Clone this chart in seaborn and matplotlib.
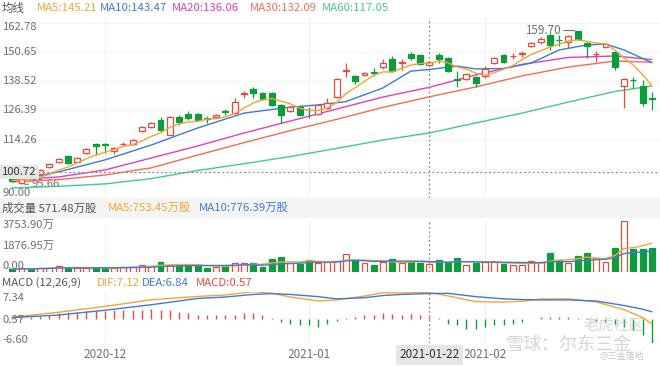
import matplotlib
matplotlib.use("Agg")
import matplotlib.pyplot as plt
from matplotlib.patches import Rectangle
import numpy as np
import pandas as pd
import seaborn as sns

# ---------------- data ----------------
holidays = ["2020-11-26", "2020-12-25", "2021-01-01", "2021-01-18", "2021-02-15"]
dates = [d for d in pd.bdate_range("2020-11-16", "2021-02-26")
         if d.strftime("%Y-%m-%d") not in holidays]

open_p = [98.5, 96.2, 99.0, 99.9, 102.7, 104.8, 107.4, 105.1, 108.8, 112.4,
          112.4, 109.6, 112.3, 112.4, 117.8, 119.6, 122.4, 116.2, 123.6, 124.9,
          124.9, 123.3, 123.8, 126.0, 125.2, 133.4, 135.2, 133.8, 133.8, 128.7,
          126.2, 128.0, 126.7, 124.9, 127.3, 132.0, 142.8, 140.8, 141.2, 142.4,
          144.4, 147.7, 146.1, 149.9, 149.5, 145.4, 149.5, 148.1, 139.6, 139.4,
          140.2, 140.8, 146.3, 149.5, 148.9, 150.0, 153.4, 155.1, 157.9, 155.9,
          155.1, 159.4, 154.4, 149.8, 153.0, 150.9, 136.6, 139.3, 136.6, 131.6]
close_p = [97.2, 97.8, 98.0, 101.6, 104.0, 106.1, 104.6, 106.5, 110.2, 111.6,
           111.9, 110.6, 112.6, 114.1, 119.4, 121.1, 118.3, 123.8, 121.7, 123.1,
           122.4, 123.0, 124.5, 125.8, 129.9, 133.7, 133.6, 131.1, 128.7, 124.5,
           128.0, 124.5, 126.5, 128.7, 129.4, 139.4, 143.1, 138.8, 141.9, 142.2,
           146.3, 143.0, 146.7, 148.1, 145.8, 146.8, 147.7, 143.0, 139.2, 141.6,
           138.0, 143.6, 148.1, 146.7, 149.2, 150.3, 154.4, 156.1, 153.7, 155.6,
           157.4, 156.1, 153.3, 150.0, 154.1, 144.6, 139.4, 138.9, 129.6, 131.3]
high_p = [99.0, 98.3, 99.6, 102.2, 104.7, 106.8, 107.8, 107.1, 110.8, 112.8,
          112.7, 111.0, 113.4, 114.6, 120.0, 121.6, 123.8, 124.2, 124.5, 126.3,
          125.3, 124.1, 124.9, 126.9, 131.4, 134.6, 136.1, 134.2, 134.0, 129.0,
          128.4, 128.3, 128.0, 129.0, 131.8, 139.8, 146.3, 141.2, 142.3, 144.0,
          147.7, 149.1, 147.7, 150.8, 149.9, 147.2, 150.5, 148.5, 143.0, 142.0,
          140.6, 144.9, 148.6, 149.9, 150.4, 151.3, 154.8, 157.1, 158.3, 157.9,
          157.8, 159.70, 154.8, 151.3, 154.5, 151.3, 139.8, 140.5, 139.1, 134.2]
low_p = [96.8, 95.66, 97.5, 99.5, 102.3, 104.4, 104.3, 104.8, 108.2, 107.9,
         108.8, 108.1, 111.6, 112.0, 117.5, 119.2, 117.6, 116.0, 120.5, 122.4,
         122.0, 121.3, 123.5, 124.5, 125.0, 131.5, 131.5, 130.7, 128.3, 121.3,
         125.8, 124.2, 123.1, 124.6, 127.0, 131.8, 140.5, 137.4, 140.8, 140.8,
         143.6, 142.6, 143.3, 147.4, 145.4, 145.0, 146.1, 142.6, 136.1, 139.0,
         136.1, 139.9, 145.9, 146.3, 147.8, 148.8, 153.0, 154.1, 151.6, 153.3,
         152.4, 155.7, 148.1, 146.7, 152.6, 143.3, 127.3, 135.6, 128.3, 126.6]
# volume in 万股
volume = [175, 250, 200, 300, 300, 420, 300, 250, 250, 300,
          300, 250, 370, 370, 490, 420, 740, 490, 490, 490,
          420, 300, 370, 420, 660, 660, 620, 370, 910, 1060,
          660, 545, 860, 660, 700, 810, 1300, 860, 620, 490,
          740, 910, 660, 740, 620, 571.48, 860, 740, 985, 490,
          660, 740, 740, 570, 490, 490, 765, 740, 1400, 860,
          620, 1155, 1350, 985, 740, 1720, 3753.9, 1650, 1650, 1720]
macd_hist = [0.2, 0.4, 0.6, 0.7, 1.1, 1.5, 1.8, 1.8, 2.0, 2.1,
             2.1, 2.3, 2.3, 2.3, 2.4, 2.7, 2.4, 2.3, 1.8, 1.5,
             1.1, 0.9, 0.9, 1.1, 1.1, 1.5, 1.5, 1.1, 0.3, -0.9,
             -1.4, -1.8, -1.8, -2.3, -1.5, -0.6, 0.3, 0.6, 0.9, 1.1,
             1.5, 1.4, 0.9, 1.4, 0.9, 0.57, 0.1, -1.4, -1.8, -2.7,
             -2.7, -2.3, -1.8, -1.8, -1.4, -0.9, -0.1, 0.5, 0.5, 0.6,
             0.6, 0.3, 0.1, -0.5, -0.9, -1.4, -2.3, -3.2, -4.5, -6.6]

ma_idx = [0, 5, 10, 15, 20, 25, 30, 35, 40, 45, 50, 55, 60, 65, 69]
ma20 = [97.4, 98.7, 101.6, 106.6, 111.6, 117.0, 122.0, 127.0, 132.0, 136.06,
        141.2, 145.6, 148.5, 149.1, 147.6]
ma30 = [96.6, 97.6, 99.5, 102.5, 107.8, 113.0, 118.0, 122.7, 127.7, 132.09,
        136.2, 140.8, 144.5, 147.0, 146.5]
ma60 = [94.1, 94.8, 95.8, 98.0, 101.4, 104.2, 107.2, 110.6, 114.1, 117.05,
        121.2, 125.3, 129.9, 134.3, 136.6]
ma10_idx = [0, 5, 10, 15, 20, 25, 30, 33, 36, 40, 43, 45, 48, 50, 53, 56, 59, 62, 64, 66, 69]
ma10 = [97.0, 100.8, 105.8, 112.0, 119.1, 125.3, 127.8, 128.7, 130.1, 135.8, 142.8,
        143.47, 144.9, 143.7, 143.9, 146.2, 151.6, 153.7, 154.1, 151.6, 146.3]
macd_idx = [0, 5, 10, 15, 20, 23, 26, 28, 30, 33, 35, 38, 40, 42, 45, 47, 50, 53,
            55, 57, 60, 63, 66, 68, 69]
dif = [0.4, 1.75, 3.35, 5.15, 6.05, 6.45, 7.34, 6.95, 5.9, 4.85, 5.1, 6.15, 7.05, 7.0,
       7.12, 6.2, 4.65, 4.5, 4.75, 5.35, 5.4, 4.55, 2.45, 0.35, -1.4]
dea = [0.3, 1.0, 2.3, 3.8, 5.5, 5.9, 6.6, 6.8, 6.6, 6.0, 5.4, 5.7, 6.3, 6.6,
       6.84, 6.9, 6.0, 5.4, 5.2, 5.1, 5.1, 4.8, 3.6, 2.6, 1.9]

price_ticks = [162.78, 150.65, 138.52, 126.39, 114.26, 90.00]
vol_ticks = ["3753.90万", "1876.95万", "0.00"]
macd_ticks = ["7.34", "0.37", "-6.60"]
cross_date = "2021-01-22"
cross_price = 100.72

# ---------------- style ----------------
sns.set_theme(style="white")
plt.rcParams['font.family'] = ['Noto Sans CJK SC', 'DejaVu Sans']

RED = "#ea4a3d"
GREEN = "#0d9c3d"
C_MA5, C_MA10, C_MA20, C_MA30, C_MA60 = "#f5a533", "#3c7bd7", "#e23fbf", "#f76d53", "#45c98f"
GRAY = "#707070"
FS = 8.2
LFS = 8.1

W, H = 660, 366
fig = plt.figure(figsize=(W / 100, H / 100), dpi=100)
fig.patch.set_facecolor("white")


def rect(x0, y0, x1, y1):
    return [x0 / W, 1 - y1 / H, (x1 - x0) / W, (y1 - y0) / H]


def ftext(x, y, s, **kw):
    kw.setdefault("fontsize", FS)
    kw.setdefault("va", "center")
    return fig.text(x / W, 1 - y / H, s, **kw)


# header band for volume
fig.patches.append(Rectangle((0, 1 - 218 / H), 1, 20 / H, transform=fig.transFigure,
                             facecolor="#f4f4f4", edgecolor="none", zorder=0))

ax_p = fig.add_axes(rect(0, 18, 660, 198))
ax_v = fig.add_axes(rect(0, 220.7, 660, 271.7))
ax_m = fig.add_axes(rect(0, 291.7, 660, 343))

n = len(close_p)
x = np.arange(n)
xlim = (-1.316, 69.88)
for ax in (ax_p, ax_v, ax_m):
    ax.set_xlim(*xlim)
    ax.set_axis_off()

ax_p.set_ylim(89.93, 164.93)
ax_v.set_ylim(0, 3753.9)
ax_m.set_ylim(-6.60, 7.34)

# month grid lines
month_pos = [i for i in range(1, n) if dates[i].month != dates[i - 1].month]
for ax in (ax_p, ax_v, ax_m):
    for mp in month_pos:
        ax.axvline(mp, color="#f0f0f0", lw=0.8, zorder=0)
for v in price_ticks + [102.13]:
    ax_p.axhline(v, color="#f4f4f4", lw=0.8, zorder=0)

# ---------------- candles ----------------
up = [c >= o for o, c in zip(open_p, close_p)]
cols = [RED if u else GREEN for u in up]
bw = 0.64
ax_p.vlines(x, low_p, high_p, colors=cols, lw=0.9, zorder=3)
for i in range(n):
    o, c = open_p[i], close_p[i]
    h = max(abs(c - o), 0.2)
    ax_p.bar(i, h, bottom=min(o, c), width=bw,
             facecolor="white" if up[i] else GREEN,
             edgecolor=cols[i], lw=0.9, zorder=4)

# moving averages
ma5 = pd.Series(close_p).rolling(5, min_periods=1).mean()
sns.lineplot(x=ma_idx, y=ma60, ax=ax_p, color=C_MA60, lw=1.0, estimator=None, sort=False, zorder=2)
sns.lineplot(x=ma_idx, y=ma30, ax=ax_p, color=C_MA30, lw=1.0, estimator=None, sort=False, zorder=2)
sns.lineplot(x=ma_idx, y=ma20, ax=ax_p, color=C_MA20, lw=1.0, estimator=None, sort=False, zorder=2)
sns.lineplot(x=ma10_idx, y=ma10, ax=ax_p, color=C_MA10, lw=1.0, estimator=None, sort=False, zorder=2)
sns.lineplot(x=x, y=ma5, ax=ax_p, color=C_MA5, lw=1.0, estimator=None, sort=False, zorder=5)

# max / min markers
imax = int(np.argmax(high_p))
imin = int(np.argmin(low_p))
ax_p.annotate(f"{high_p[imax]:.2f}", xy=(imax - 0.35, high_p[imax]), xytext=(-10, 0),
              textcoords="offset points", ha="right", va="center", fontsize=LFS + 0.3, color=GRAY,
              arrowprops=dict(arrowstyle="-", color="#777777", lw=0.8, shrinkA=0, shrinkB=0))
ax_p.annotate(f"{low_p[imin]:.2f}", xy=(imin + 0.35, low_p[imin]), xytext=(5, 0),
              textcoords="offset points", ha="left", va="center", fontsize=LFS, color=GRAY,
              arrowprops=dict(arrowstyle="-", color="#777777", lw=0.8, shrinkA=0, shrinkB=0),
              zorder=1)

# crosshair
ci = [d.strftime("%Y-%m-%d") for d in dates].index(cross_date)
for ax in (ax_p, ax_v, ax_m):
    ax.axvline(ci, color="#8a8a8a", lw=0.9, ls=(0, (1.5, 2)), zorder=6)
ax_p.axhline(cross_price, xmin=0.058, color="#8a8a8a", lw=0.9, ls=(0, (1.5, 2)), zorder=6)


# y labels
def ylab(ax, val, s, dy=0.0):
    ax.annotate(s, xy=(0, val), xycoords=("axes fraction", "data"), xytext=(2, -dy * 0.72),
                textcoords="offset points", ha="left", va="center", fontsize=LFS,
                color=GRAY, zorder=7)


for v in price_ticks:
    dy = 3.8 if v == price_ticks[0] else (-4.8 if v == price_ticks[-1] else 0)
    ylab(ax_p, v, f"{v:.2f}", dy)

# ---------------- volume ----------------
for i in range(n):
    ax_v.bar(i, volume[i], width=bw, facecolor="white" if up[i] else GREEN,
             edgecolor=cols[i], lw=0.9, zorder=3)
vma5 = pd.Series(volume).rolling(5, min_periods=1).mean()
vma10 = pd.Series(volume).rolling(10, min_periods=1).mean()
sns.lineplot(x=x, y=vma5, ax=ax_v, color=C_MA5, lw=1.0, estimator=None, sort=False, zorder=4)
sns.lineplot(x=x, y=vma10, ax=ax_v, color=C_MA10, lw=1.0, estimator=None, sort=False, zorder=4)
ylab(ax_v, 3753.9, vol_ticks[0], 4.0)
ylab(ax_v, 1876.95, vol_ticks[1], 0)
ylab(ax_v, 0, vol_ticks[2], -5.5)

# ---------------- MACD ----------------
mcols = [RED if m >= 0 else GREEN for m in macd_hist]
ax_m.vlines(x, 0, macd_hist, colors=mcols, lw=1.0, zorder=3)
sns.lineplot(x=macd_idx, y=dif, ax=ax_m, color=C_MA5, lw=1.0, estimator=None, sort=False, zorder=4)
sns.lineplot(x=macd_idx, y=dea, ax=ax_m, color=C_MA10, lw=1.0, estimator=None, sort=False, zorder=4)
ylab(ax_m, 7.34, macd_ticks[0], 6.0)
ylab(ax_m, 0.37, macd_ticks[1], 2.6)
ylab(ax_m, -6.60, macd_ticks[2], -3.0)

# ---------------- headers ----------------
ftext(2, 8, "均线", color="#555555")
ftext(37, 8, f"MA5:{145.21:.2f}", color=C_MA5)
ftext(100, 8, f"MA10:{143.47:.2f}", color=C_MA10)
ftext(172, 8, f"MA20:{136.06:.2f}", color=C_MA20)
ftext(250, 8, f"MA30:{132.09:.2f}", color=C_MA30)
ftext(322, 8, f"MA60:{117.05:.2f}", color=C_MA60)

ftext(2, 208, f"成交量 {volume[ci]:.2f}万股", color="#555555")
ftext(108, 208, "MA5:753.45万股", color=C_MA5)
ftext(199, 208, "MA10:776.39万股", color=C_MA10)

ftext(2, 283, "MACD (12,26,9)", color="#555555")
ftext(97, 283, f"DIF:{7.12:.2f}", color=C_MA5)
ftext(142, 283, f"DEA:{6.84:.2f}", color=C_MA10)
ftext(196, 283, f"MACD:{macd_hist[ci]:.2f}", color=RED)

# crosshair labels
ftext(2, 172, f"{cross_price:.2f}", color="#333333", fontsize=LFS,
      bbox=dict(boxstyle="square,pad=0.2", facecolor="#e6e6e6", edgecolor="none"))
# x labels
px = lambda i: 12.2 + 9.27 * i
for mp in month_pos:
    ftext(px(mp), 355, dates[mp].strftime("%Y-%m"), color=GRAY, ha="center", fontsize=LFS + 0.3)
ftext(px(ci), 355, cross_date, color="#333333", ha="center", fontsize=LFS + 0.3,
      bbox=dict(boxstyle="square,pad=0.3", facecolor="#e6e6e6", edgecolor="none"))

# watermarks
ftext(583, 325, "老虎社区", color="#b5b5b5", alpha=0.55, fontsize=11, ha="left")
ftext(506, 345, "雪球：尔东三金", color="#b5b5b5", alpha=0.55, fontsize=13, ha="left")
ftext(600, 357, "@三金落地", color="#a0a0a0", alpha=0.6, fontsize=6.5, ha="left")

fig.savefig("out.png", dpi=100)
